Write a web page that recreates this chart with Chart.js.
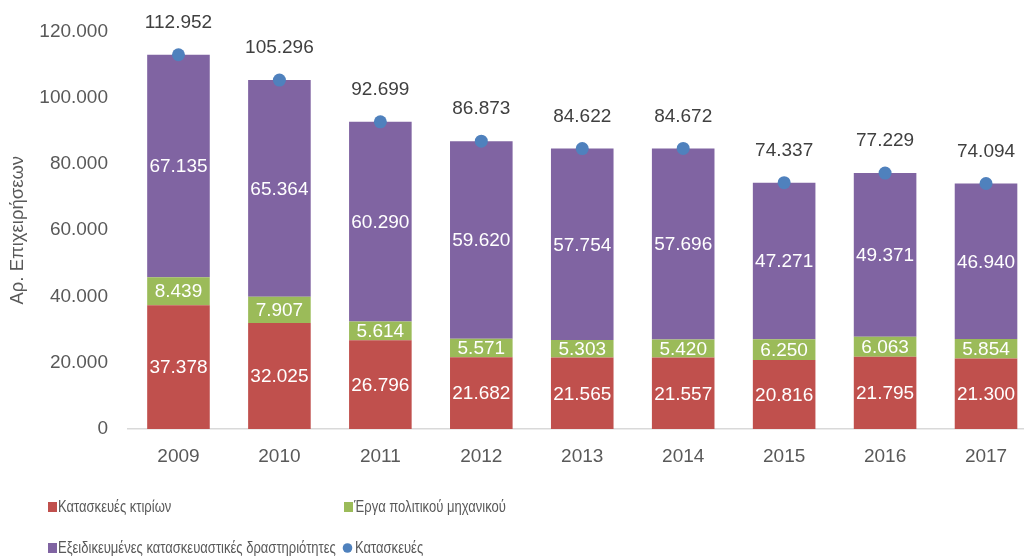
<!DOCTYPE html>
<html lang="el">
<head>
<meta charset="UTF-8">
<title>Κατασκευές</title>
<script src="https://cdn.jsdelivr.net/npm/chart.js"></script>
<style>
  html, body { margin: 0; padding: 0; overflow: hidden; background: #fff; }
  canvas { display: block; }
</style>
</head>
<body>
<canvas id="myChart" width="1043" height="558"></canvas>
<script>
const years = ['2009', '2010', '2011', '2012', '2013', '2014', '2015', '2016', '2017']
const ktiria = [37378, 32025, 26796, 21682, 21565, 21557, 20816, 21795, 21300]
const politikou = [8439, 7907, 5614, 5571, 5303, 5420, 6250, 6063, 5854]
const eksidikeumenes = [67135, 65364, 60290, 59620, 57754, 57696, 47271, 49371, 46940]
const synolo = [112952, 105296, 92699, 86873, 84622, 84672, 74337, 77229, 74094]
const yTicks = [0, 20000, 40000, 60000, 80000, 100000, 120000]

const FONT = "'Liberation Sans', Arial, sans-serif"
const fmt = v => String(v).replace(/\B(?=(\d{3})+(?!\d))/g, '.')

// numbers inside the bars and above the points
const valueLabels = {
    id: 'valueLabels',
    afterDatasetsDraw(chart) {
        const ctx = chart.ctx
        ctx.save()
        ctx.font = '19px ' + FONT
        ctx.textAlign = 'center'
        ctx.textBaseline = 'middle'
        chart.data.datasets.forEach((ds, i) => {
            const meta = chart.getDatasetMeta(i)
            meta.data.forEach((el, j) => {
                const v = ds.data[j]
                if (ds.type === 'line') {
                    ctx.fillStyle = '#404040'
                    ctx.fillText(fmt(v), el.x, el.y - 32)
                } else {
                    ctx.fillStyle = '#ffffff'
                    ctx.fillText(fmt(v), el.x, (el.y + el.base) / 2 + 1)
                }
            })
        })
        ctx.restore()
    }
}

const legendItems = [
    { text: 'Κατασκευές κτιρίων', color: '#C0504D', shape: 'rect', x: 48, y: 507 },
    { text: 'Έργα πολιτικού μηχανικού', color: '#9BBB59', shape: 'rect', x: 344, y: 507 },
    { text: 'Εξειδικευμένες κατασκευαστικές δραστηριότητες', color: '#8064A2', shape: 'rect', x: 48, y: 548 },
    { text: 'Κατασκευές', color: '#4F81BD', shape: 'circle', x: 343, y: 548 }
]

// excel style legend: narrow text, two columns
const bottomLegend = {
    id: 'bottomLegend',
    afterDraw(chart) {
        const ctx = chart.ctx
        const squeeze = 0.79
        ctx.save()
        ctx.font = '16.5px ' + FONT
        ctx.textAlign = 'left'
        ctx.textBaseline = 'middle'
        legendItems.forEach(it => {
            ctx.fillStyle = it.color
            if (it.shape === 'rect') {
                ctx.fillRect(it.x, it.y - 5, 9, 10)
            } else {
                ctx.beginPath()
                ctx.arc(it.x + 4.5, it.y, 4.8, 0, Math.PI * 2)
                ctx.fill()
            }
            const tx = it.x + (it.shape === 'rect' ? 10 : 12)
            ctx.save()
            ctx.translate(tx, it.y)
            ctx.scale(squeeze, 1)
            ctx.fillStyle = '#595959'
            ctx.fillText(it.text, 0, 0)
            ctx.restore()
        })
        ctx.restore()
    }
}

const ctx = document.getElementById('myChart')
const myChart = new Chart(ctx, {
    type: 'bar',
    data: {
        labels: years,
        datasets: [
            { type: 'line', label: 'Κατασκευές', data: synolo, stack: 'total', order: 0,
              showLine: false, pointRadius: 6.5, pointHoverRadius: 6.5, pointBorderWidth: 0,
              pointBackgroundColor: '#4F81BD', borderColor: '#4F81BD' },
            { label: 'Κατασκευές κτιρίων', data: ktiria, backgroundColor: '#C0504D', stack: 'a', order: 1 },
            { label: 'Έργα πολιτικού μηχανικού', data: politikou, backgroundColor: '#9BBB59', stack: 'a', order: 1 },
            { label: 'Εξειδικευμένες κατασκευαστικές δραστηριότητες', data: eksidikeumenes, backgroundColor: '#8064A2', stack: 'a', order: 1 }
        ]
    },
    options: {
        responsive: false,
        animation: false,
        events: [],
        barPercentage: 0.62,
        categoryPercentage: 1,
        layout: { padding: { top: 21.5, left: 0, right: 0, bottom: 0 } },
        plugins: {
            legend: { display: false },
            tooltip: { enabled: false }
        },
        scales: {
            x: {
                stacked: true,
                grid: { display: false, drawTicks: false },
                border: { display: true, color: '#D9D9D9', width: 1.5 },
                ticks: { color: '#595959', font: { size: 19, family: FONT }, padding: 16 },
                afterFit(scale) { scale.height = 129 }
            },
            y: {
                stacked: true,
                min: 0,
                max: 120000,
                afterBuildTicks(scale) { scale.ticks = yTicks.map(v => ({ value: v })) },
                grid: { display: false, drawTicks: false },
                border: { display: false },
                ticks: { color: '#595959', font: { size: 19, family: FONT }, padding: 20, callback: v => fmt(v) },
                title: { display: true, text: 'Αρ. Επιχειρήσεων', color: '#595959',
                         font: { size: 18.5, family: FONT }, padding: { top: 7, bottom: 0 } },
                afterFit(scale) { scale.width = 128 }
            }
        }
    },
    plugins: [valueLabels, bottomLegend]
})
</script>
</body>
</html>
